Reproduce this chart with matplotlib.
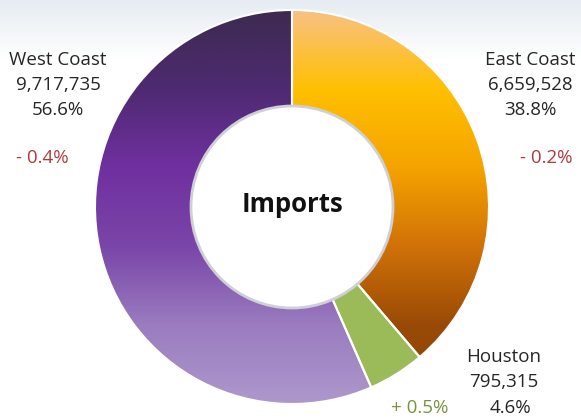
import matplotlib.pyplot as plt
from matplotlib.colors import LinearSegmentedColormap
import numpy as np

labels = ["East Coast", "Houston", "West Coast"]
values = [6659528, 795315, 9717735]
shares = ["38.8%", "4.6%", "56.6%"]
changes = ["- 0.2%", "+ 0.5%", "- 0.4%"]

W, H = 581, 420
fig = plt.figure(figsize=(W / 100, H / 100), dpi=100)
ax = fig.add_axes([0, 0, 1, 1])

# faint bluish page background
bg = np.linspace(0, 1, 60).reshape(-1, 1)
bg_cmap = LinearSegmentedColormap.from_list("bg", ["#e6ecf2", "#ffffff"])
ax.imshow(bg, cmap=bg_cmap, extent=[0, W, H - 60, H], aspect="auto", zorder=0)

cx, cy = 292, H - 207
r_out, r_in = 197, 100

wedges, _ = ax.pie(values, center=(cx, cy), radius=r_out, startangle=90,
                   counterclock=False, frame=True,
                   wedgeprops=dict(width=r_out - r_in, edgecolor="white", linewidth=1.5))

# vertical gradients (stops given top -> bottom of the ring)
grads = [
    ["#f9c184", "#ffc000", "#f5a300", "#d07208", "#9a4a06", "#8c4306"],
    ["#9bbb59", "#9bbb59"],
    ["#3d2a50", "#4e2a72", "#7030a0", "#7a45a8", "#9a7cbf", "#ad98cc"],
]
ys = np.linspace(0, 1, 256).reshape(-1, 1)
for w, g in zip(wedges, grads):
    cm = LinearSegmentedColormap.from_list("g", g)
    w.set_facecolor("none")
    im = ax.imshow(ys, cmap=cm, extent=[cx - r_out, cx + r_out, cy - r_out, cy + r_out],
                   aspect="auto", zorder=1, vmin=0, vmax=1)
    im.set_clip_path(w)
    w.set_zorder(2)

# inner circle with soft shadow
ax.add_patch(plt.Circle((cx, cy), r_in + 1, facecolor="white", edgecolor="#cfcfd6", linewidth=2, zorder=3))

ax.text(cx, cy + 3, "Imports", ha="center", va="center", fontsize=18.5, fontweight="bold",
        family="Open Sans", color="#111111", zorder=4)

fs = 13.5
tc = "#262626"
font = "Open Sans"
ax.text(58, H - 60, labels[2], ha="center", va="center", fontsize=fs, color=tc, family=font)
ax.text(58, H - 85, f"{values[2]:,}", ha="center", va="center", fontsize=fs, color=tc, family=font)
ax.text(58, H - 110, shares[2], ha="center", va="center", fontsize=fs, color=tc, family=font)
ax.text(42, H - 158, changes[2], ha="center", va="center", fontsize=fs, color="#b03a3a", family=font)

ax.text(530, H - 60, labels[0], ha="center", va="center", fontsize=fs, color=tc, family=font)
ax.text(530, H - 85, f"{values[0]:,}", ha="center", va="center", fontsize=fs, color=tc, family=font)
ax.text(530, H - 110, shares[0], ha="center", va="center", fontsize=fs, color=tc, family=font)
ax.text(546, H - 158, changes[0], ha="center", va="center", fontsize=fs, color="#b03a3a", family=font)

ax.text(504, H - 357, labels[1], ha="center", va="center", fontsize=fs, color=tc, family=font)
ax.text(504, H - 382, f"{values[1]:,}", ha="center", va="center", fontsize=fs, color=tc, family=font)
ax.text(510, H - 408, shares[1], ha="center", va="center", fontsize=fs, color=tc, family=font)
ax.text(420, H - 408, changes[1], ha="center", va="center", fontsize=fs, color="#77933c", family=font)

ax.set_xlim(0, W)
ax.set_ylim(0, H)
ax.set_aspect("auto")
ax.axis("off")
fig.savefig("out.png", dpi=100)
